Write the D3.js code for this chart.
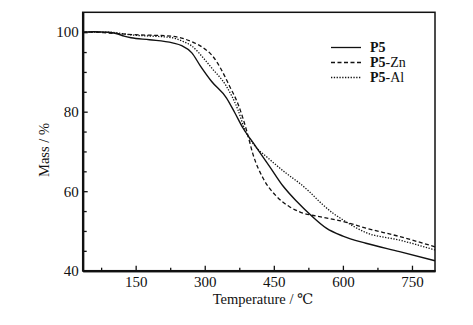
<!DOCTYPE html>
<html><head><meta charset="utf-8">
<script src="https://cdn.jsdelivr.net/npm/d3@7"></script>
<style>body{margin:0;background:#fff}svg{display:block}text{font-family:"Liberation Serif","DejaVu Serif",serif;fill:#111}</style>
</head><body><svg id="c" width="473" height="325"></svg>
<script>
const seriesNames = ["P5", "P5-Zn", "P5-Al"];
const p5 = [[35,100],[60,100.1],[90,100],[110,99.6],[125,99],[140,98.6],[180,98.1],[230,97.3],[250,96.6],[272,94.8],[290,91.6],[315,87.6],[347,83.5],[365,79.8],[383,75.9],[408,71.7],[441,66.2],[470,61.3],[500,57.4],[530,54],[564,50.7],[600,48.7],[650,46.9],[723,44.8],[800,42.5]];
const p5zn = [[35,100],[60,100],[90,99.8],[142,99.4],[229,99],[250,98.5],[272,97.6],[300,95.8],[317,94],[335,90.8],[354,86.4],[372,82],[382,78.7],[392,74.8],[405,69.2],[427,63.2],[456,58.7],[484,56.1],[506,54.8],[549,53.6],[600,52.4],[650,50.7],[723,48.6],[800,46]];
const p5al = [[35,100],[90,100],[142,99.3],[229,98.6],[250,97.8],[272,96.5],[300,93.1],[315,91],[347,86.4],[372,80.5],[387,75.5],[408,71.5],[434,68.7],[477,64.5],[506,62],[528,59.8],[549,57.4],[578,54.5],[600,52.8],[650,49.6],[723,47.7],[800,45.2]];
const xTicks = [150,300,450,600,750];
const xMinor = [75,225,375,525,675];
const yTicks = [40,60,80,100];
const yMinor = [45,50,55,65,70,75,85,90,95];
const dashes = ["none","4,2.5","1.3,1.5"];

const svg = d3.select("#c");
const L=82.7,R=435,T=12.3,B=270.7;
const x = d3.scaleLinear().domain([35,800]).range([L,R]);
const y = d3.scaleLinear().domain([40,105]).range([B,T]);

const line = d3.line().x(d=>x(d[0])).y(d=>y(d[1])).curve(d3.curveMonotoneX);
[p5,p5zn,p5al].forEach((s,i)=>{
  svg.append("path").datum(s).attr("d",line).attr("fill","none").attr("stroke","#111")
    .attr("stroke-width",i==0?1.4:1.3).attr("stroke-dasharray",dashes[i]);
});

svg.append("rect").attr("x",L).attr("y",T).attr("width",R-L).attr("height",B-T)
  .attr("fill","none").attr("stroke","#111").attr("stroke-width",1.5);

const xAx = svg.append("g").attr("transform",`translate(0,${B})`)
  .call(d3.axisBottom(x).tickValues(xTicks).tickSizeInner(-5).tickSizeOuter(0).tickPadding(6));
const xAxM = svg.append("g").attr("transform",`translate(0,${B})`)
  .call(d3.axisBottom(x).tickValues(xMinor).tickSizeInner(-3).tickSizeOuter(0).tickFormat(""));
const yAx = svg.append("g").attr("transform",`translate(${L},0)`)
  .call(d3.axisLeft(y).tickValues(yTicks).tickSizeInner(-5).tickSizeOuter(0).tickPadding(4));
const yAxM = svg.append("g").attr("transform",`translate(${L},0)`)
  .call(d3.axisLeft(y).tickValues(yMinor).tickSizeInner(-4).tickSizeOuter(0).tickFormat(""));
[xAx,xAxM,yAx,yAxM].forEach(g=>{
  g.select(".domain").attr("stroke","#111").attr("stroke-width",2);
  g.selectAll("line").attr("stroke","#111").attr("stroke-width",1.3);
  g.selectAll("text").style("font-family","'Liberation Serif',serif").style("font-size","15px").attr("fill","#111");
});

svg.append("text").attr("x",263).attr("y",304).attr("text-anchor","middle").style("font-size","14.5px")
  .text("Temperature / ℃");
svg.append("text").attr("transform","translate(49,150) rotate(-90)").attr("text-anchor","middle").style("font-size","14.5px")
  .text("Mass / %");

const lg = svg.append("g");
seriesNames.forEach((n,i)=>{
  const yy = 47.5 + i*15;
  lg.append("line").attr("x1",331).attr("x2",361).attr("y1",yy).attr("y2",yy)
    .attr("stroke","#111").attr("stroke-width",1.3).attr("stroke-dasharray",dashes[i]);
  const t = lg.append("text").attr("x",370).attr("y",yy+4.5).style("font-size","14px");
  const parts = n.split("-");
  t.append("tspan").style("font-weight","bold").text(parts[0]);
  if(parts[1]) t.append("tspan").text("-"+parts[1]);
});
</script></body></html>
